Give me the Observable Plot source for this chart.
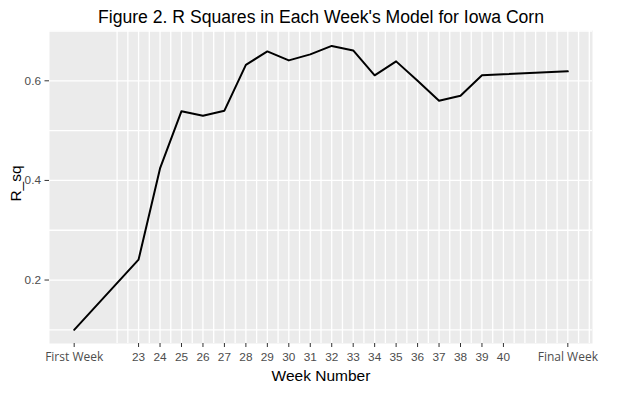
<!DOCTYPE html>
<html>
<head>
<meta charset="utf-8">
<script src="https://cdn.jsdelivr.net/npm/d3@7"></script>
<script src="https://cdn.jsdelivr.net/npm/@observablehq/plot@0.6"></script>
<style>
  html, body { margin: 0; padding: 0; background: #ffffff; }
  #chart svg { display: block; }
</style>
</head>
<body>
<div id="chart"></div>
<script>
// Data
const weeks = [20, 23, 24, 25, 26, 27, 28, 29, 30, 31, 32, 33, 34, 35, 36, 37, 38, 39, 40, 43];
const rsq   = [0.100, 0.241, 0.424, 0.539, 0.530, 0.540, 0.632, 0.659, 0.641, 0.653,
               0.670, 0.661, 0.611, 0.639, 0.600, 0.560, 0.570, 0.611, 0.613, 0.619];
const tickLabels = ["First Week", "23", "24", "25", "26", "27", "28", "29", "30", "31",
                    "32", "33", "34", "35", "36", "37", "38", "39", "40", "Final Week"];
const yTicks = [0.2, 0.4, 0.6];
const titleText = "Figure 2. R Squares in Each Week's Model for Iowa Corn";
const xTitle = "Week Number";
const yTitle = "R_sq";

const data = weeks.map((w, i) => ({week: w, r: rsq[i]}));
const labelOf = new Map(weeks.map((w, i) => [w, tickLabels[i]]));

const xGrid = d3.range(22, 44.01, 0.5);
const yGrid = d3.range(0.1, 0.701, 0.1);

const font = "'Liberation Sans', Arial, sans-serif";

const chart = Plot.plot({
  width: 620,
  height: 397,
  marginLeft: 49,
  marginRight: 28,
  marginTop: 30,
  marginBottom: 54,
  style: {fontFamily: font, background: "#ffffff", overflow: "visible"},
  x: {domain: [18.85, 44.15]},
  y: {domain: [0.0726, 0.701]},
  marks: [
    Plot.frame({fill: "#EBEBEB", stroke: null}),
    Plot.ruleX(xGrid, {stroke: "#ffffff", strokeWidth: 1.3}),
    Plot.ruleY(yGrid, {stroke: "#ffffff", strokeWidth: 1.3}),
    Plot.line(data, {x: "week", y: "r", stroke: "#000000", strokeWidth: 2}),
    Plot.axisX({
      ticks: weeks,
      tickFormat: d => labelOf.get(d),
      tickSize: 4,
      tickPadding: 5,
      stroke: "#333333",
      fill: "#4D4D4D",
      fontSize: 11.8,
      label: null
    }),
    Plot.axisY({
      ticks: yTicks,
      tickFormat: d => d.toFixed(1),
      tickSize: 4.5,
      tickPadding: 4,
      stroke: "#333333",
      fill: "#4D4D4D",
      fontSize: 11.8,
      label: null
    }),
    Plot.text([titleText], {
      frameAnchor: "top", lineAnchor: "bottom", dy: -7.5,
      fontSize: 17.6, fill: "#000000"
    }),
    Plot.text([xTitle], {
      frameAnchor: "bottom", lineAnchor: "bottom", dy: 37,
      fontSize: 15.5, fill: "#000000"
    }),
    Plot.text([yTitle], {
      frameAnchor: "left", textAnchor: "middle", lineAnchor: "bottom", rotate: -90,
      dx: -28.5, dy: -3.5,
      fontSize: 15.5, fill: "#000000"
    })
  ]
});

// First/Final Week labels use a different face in the reference
d3.select(chart).selectAll("text").each(function() {
  const t = this.textContent;
  if (t === "First Week" || t === "Final Week") {
    d3.select(this).style("font-family", "'Open Sans', sans-serif").attr("font-size", 12);
  }
});

document.getElementById("chart").appendChild(chart);
</script>
</body>
</html>
